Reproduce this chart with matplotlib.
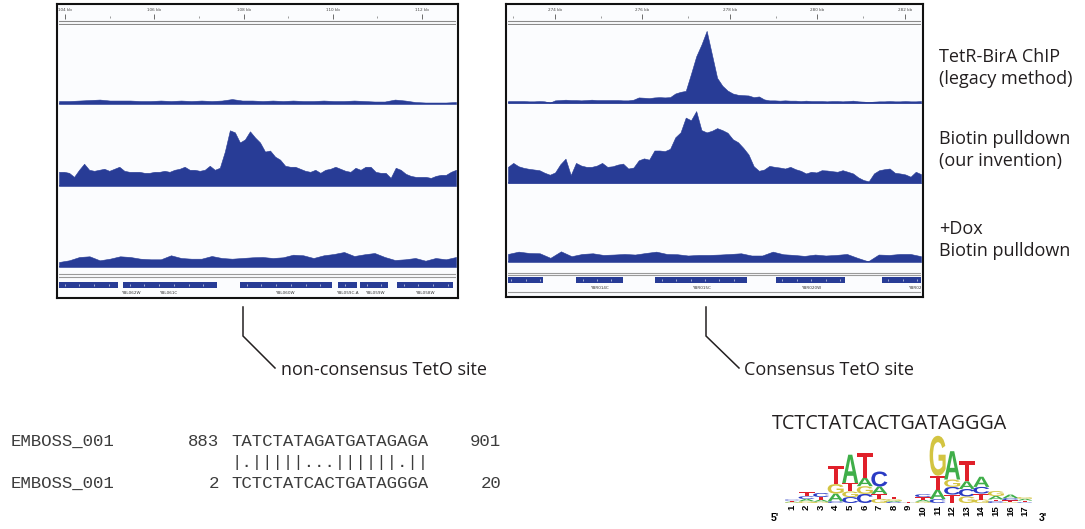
import numpy as np
import matplotlib
matplotlib.use('Agg')
import matplotlib.pyplot as plt
from matplotlib.textpath import TextPath
from matplotlib.patches import PathPatch
from matplotlib.font_manager import FontProperties
from matplotlib.transforms import Affine2D

plt.rcParams['font.family'] = ['Open Sans', 'DejaVu Sans']

# ---- genome browser data (chrII) ----
left_view_kb = (103.865, 112.762)
left_ruler_major = [104, 106, 108, 110, 112]
left_ruler_minor = [105, 107, 109, 111]

right_view_kb = (272.926, 282.366)
right_ruler_major = [274, 276, 278, 280, 282]
right_ruler_minor = [273.04, 275.05, 277.05, 279.05, 281.04]

# coverage, evenly spaced across the view
left_chip = [3, 3, 3.5, 4, 4.5, 3.5, 3.5, 3.5, 3, 3, 3.5, 3, 3.5, 3, 3.5, 3, 3.5, 5, 3.5, 3.5,
             3, 3.5, 3, 3.5, 3, 3, 3.5, 3, 3, 3.5, 3, 2.5, 2.5, 4.5, 3.5, 2, 1.5, 1.5, 1.5, 2]
left_biotin = [14, 14, 13, 9, 16, 22, 16, 15, 16, 17, 15, 17, 19, 15, 14, 14, 14, 13, 13, 14,
               14, 15, 14, 16, 17, 19, 16, 16, 15, 16, 20, 16, 18, 34, 55, 53, 43, 46, 54, 48,
               43, 34, 35, 29, 26, 20, 19, 19, 17, 15, 14, 16, 13, 16, 17, 19, 17, 15, 14, 18,
               16, 19, 19, 14, 13, 13, 8, 18, 16, 12, 10, 9, 9, 9, 8, 10, 11, 11, 14, 16]
left_dox = [5, 6.7, 10, 10.7, 6.7, 8.3, 10.7, 10, 8.3, 7.7, 7.7, 11.7, 9, 8.3, 8.3, 11, 9, 8.3, 9, 9.7,
            10, 9, 9.7, 12.3, 11.7, 9, 11.7, 13, 15, 11, 12.7, 14, 10, 7, 7.7, 9, 6.3, 9, 7.7, 10]

right_chip = [2.3, 2.3, 2.3, 2.3, 2, 2, 2.3, 2, 0.7, 3, 3.3, 3.7, 3.3, 3.3, 3, 3.3, 3.7, 3.3, 3.3, 3.3,
              3.3, 3.3, 3, 3, 3.7, 6, 5.7, 5.3, 6, 6.3, 6, 6.3, 10, 11.7, 12.7, 30, 48, 60, 74, 50,
              26, 18, 13, 10, 8.7, 8.3, 8, 6.3, 7, 4, 3, 3, 2.7, 3, 2.7, 2.7, 2.3, 2.7, 2.3, 2.3,
              2.3, 2, 2.3, 2.3, 2, 2.3, 2.7, 2, 1.7, 1.3, 1.7, 2, 2, 2.3, 2, 2, 2.3, 2, 2, 2.3]
right_biotin = [16.7, 20.7, 17.3, 15.7, 14.7, 14, 13.3, 10.7, 8.7, 11, 19.3, 25, 8.3, 20.7, 18, 16.7,
                16.7, 18, 20.7, 16.7, 17.3, 19, 20, 15, 16, 23.3, 25.3, 24, 33.3, 33.3, 32.7, 35,
                46.7, 51.7, 66.7, 64, 73.3, 54, 51.7, 53.3, 56, 54, 51.3, 44.7, 41.7, 36, 29.3,
                17.3, 12.7, 14, 17.7, 16.7, 16, 15, 16.7, 14.3, 12.7, 10, 11.7, 11, 13.3, 13,
                12.3, 11.7, 13.3, 11.7, 10, 6, 3.3, 2, 10, 13.3, 14.3, 15, 10.7, 10, 9, 6.7, 11.7, 9.3]
right_dox = [8.3, 10.7, 9.3, 9, 4.3, 11, 6, 8.3, 9, 7.3, 7.7, 8.3, 7.7, 9.3, 10.7, 8.3, 8, 6.7, 7.3, 7.3,
             7.7, 8.3, 9, 6.7, 6.7, 10.7, 8, 7.3, 6.3, 7.7, 6.7, 7.3, 8.3, 4.3, 0.7, 7.7, 7.3, 8.3, 8.3, 6]

left_genes = [(103.84, 105.19), (105.30, 107.41), (107.92, 109.99),
              (110.12, 110.55), (110.61, 111.24), (111.44, 112.70)]
left_gene_names = ['YBL062W', 'YBL061C', 'YBL060W', 'YBL059C-A', 'YBL059W', 'YBL058W']
left_gene_label_kb = [105.48, 106.31, 108.93, 110.32, 110.95, 112.07]

right_genes = [(272.85, 273.73), (274.48, 275.55), (276.29, 278.39), (279.05, 280.63), (281.47, 282.60)]
right_gene_names = ['YBR014C', 'YBR015C', 'YBR020W', 'YBR021W']
right_gene_label_kb = [275.01, 277.34, 279.85, 282.30]

track_labels = [('TetR-BirA ChIP', '(legacy method)'),
                ('Biotin pulldown', '(our invention)'),
                ('+Dox', 'Biotin pulldown')]

# ---- EMBOSS alignment ----
aln_name = 'EMBOSS_001'
aln_top_seq, aln_top_start, aln_top_end = 'TATCTATAGATGATAGAGA', 883, 901
aln_bot_seq, aln_bot_start, aln_bot_end = 'TCTCTATCACTGATAGGGA', 2, 20

# ---- motif logo (bits, stacked bottom to top) ----
motif_consensus = 'TCTCTATCACTGATAGGGA'
logo_order = ['GATC', 'GACT', 'GATC', 'CAGT', 'CGTA', 'CGAT', 'GTAC', 'CAGT', 'ACGT',
              'GATC', 'CATG', 'TCGA', 'GCAT', 'GTCA', 'CTAG', 'GTCA', 'CTAG']
logo_bits = [[0.02, 0.02, 0.03, 0.03], [0.05, 0.066, 0.077, 0.114], [0.037, 0.057, 0.077, 0.114],
             [0.05, 0.22, 0.27, 0.52], [0.17, 0.16, 0.24, 0.81], [0.26, 0.22, 0.24, 0.72],
             [0.12, 0.14, 0.21, 0.43], [0.03, 0.03, 0.05, 0.06], [0.004, 0.004, 0.004, 0.004],
             [0.04, 0.05, 0.08, 0.08], [0.11, 0.27, 0.40, 1.14], [0.24, 0.22, 0.21, 0.81],
             [0.19, 0.21, 0.22, 0.57], [0.10, 0.17, 0.19, 0.29], [0.05, 0.05, 0.10, 0.14],
             [0.02, 0.06, 0.06, 0.10], [0.02, 0.05, 0.05, 0.05]]

BLUE = '#283c96'
INK = '#231f20'
BASE_COLORS = {'A': '#3fae49', 'C': '#2a3bc4', 'G': '#d3c441', 'T': '#e0202a'}

W, H = 1085, 529
fig = plt.figure(figsize=(W / 100, H / 100), dpi=100)


def px_axes(x0, y0, x1, y1, **kw):
    ax = fig.add_axes([x0 / W, 1 - y1 / H, (x1 - x0) / W, (y1 - y0) / H], **kw)
    return ax


def frame(x0, y0, x1, y1):
    ax = px_axes(x0, y0, x1, y1, facecolor='#fbfcfe')
    ax.set_xticks([])
    ax.set_yticks([])
    for s in ax.spines.values():
        s.set_linewidth(1.5)
        s.set_color('#111111')


def ruler(x0, x1, view, major, minor):
    ax = px_axes(x0, 6, x1, 25, facecolor='none')
    ax.set_xlim(*view)
    ax.set_ylim(19, 0)
    ax.axis('off')
    ax.vlines(major, 8, 13, color='#555555', lw=0.6)
    ax.vlines(minor, 9.5, 11.5, color='#777777', lw=0.5)
    for kb in major:
        ax.text(kb, 4, f'{kb} kb', fontsize=3, ha='center', va='center', color='#444444',
                family='DejaVu Sans')
    ax.axhline(15.3, color='#8a8a8a', lw=0.8)
    ax.axhline(17.6, color='#8a8a8a', lw=0.8)


def coverage(x0, x1, top, base, view, values):
    ax = px_axes(x0, top, x1, base, facecolor='none')
    ax.set_xlim(*view)
    ax.set_ylim(0, 80)
    ax.axis('off')
    xs = np.linspace(view[0], view[1], len(values))
    ax.fill_between(xs, values, 0, color=BLUE, lw=0.4, ec=BLUE)
    ax.axhline(0, color=BLUE, lw=1.2)


def gene_track(x0, x1, top, bottom, view, genes, names, label_kb, bar_y, label_y, line_y):
    ax = px_axes(x0, top, x1, bottom, facecolor='none')
    ax.set_xlim(*view)
    ax.set_ylim(bottom - top, 0)
    ax.axis('off')
    for ly in line_y:
        ax.axhline(ly, color='#9a9a9a', lw=0.8)
    ax.broken_barh([(s, e - s) for s, e in genes], (bar_y, 6), facecolors=BLUE)
    for s, e in genes:
        marks = np.arange(s + 0.15, e - 0.05, 0.33)
        ax.plot(marks, [bar_y + 3] * len(marks), ls='none', marker='|', ms=1.6,
                mew=0.4, color='white')
    for kb, name in zip(label_kb, names):
        ax.text(kb, label_y, name, fontsize=3, ha='center', va='center', color='#333333',
                family='DejaVu Sans', clip_on=True)


# left browser panel
frame(57, 4, 458, 298)
ruler(59, 456, left_view_kb, left_ruler_major, left_ruler_minor)
coverage(59, 456, 25, 104, left_view_kb, left_chip)
coverage(59, 456, 105, 186, left_view_kb, left_biotin)
coverage(59, 456, 187, 267, left_view_kb, left_dox)
gene_track(59, 456, 270, 297, left_view_kb, left_genes, left_gene_names, left_gene_label_kb,
           12, 23, [4, 6.5])

# right browser panel
frame(506, 4, 923, 297)
ruler(508, 921, right_view_kb, right_ruler_major, right_ruler_minor)
coverage(508, 921, 25, 103.3, right_view_kb, right_chip)
coverage(508, 921, 104.5, 183.3, right_view_kb, right_biotin)
coverage(508, 921, 184.5, 262, right_view_kb, right_dox)
gene_track(508, 921, 270, 296, right_view_kb, right_genes, right_gene_names, right_gene_label_kb,
           7, 18, [3, 5, 22])

# overlay for callouts and text
ov = fig.add_axes([0, 0, 1, 1], facecolor='none')
ov.set_xlim(0, W)
ov.set_ylim(H, 0)
ov.axis('off')

ov.plot([243, 243, 275], [307, 336, 368], color=INK, lw=1.1, solid_joinstyle='miter')
ov.plot([706, 706, 739], [307, 336, 368], color=INK, lw=1.1, solid_joinstyle='miter')
ov.text(281, 370, 'non-consensus TetO site', fontsize=13, va='center', color=INK)
ov.text(744, 370, 'Consensus TetO site', fontsize=13, va='center', color=INK)

for (l1, l2), yc in zip(track_labels, [57, 139, 229]):
    ov.text(939, yc, l1, fontsize=13, va='center', color=INK)
    ov.text(939, yc + 22, l2, fontsize=13, va='center', color=INK)

# alignment block: name, start, sequence, end in fixed columns, shared baseline
match = ''.join('|' if a == b else '.' for a, b in zip(aln_top_seq, aln_bot_seq))
mono = dict(family='Liberation Mono', fontsize=12.5, va='baseline', color='#3c3c3c')
rows = [(aln_name, str(aln_top_start), aln_top_seq, str(aln_top_end), 446),
        ('', '', match, '', 467),
        (aln_name, str(aln_bot_start), aln_bot_seq, str(aln_bot_end), 488)]
for name, start, seq, end, yb in rows:
    ov.text(11, yb, name, **mono)
    ov.text(219, yb, start, ha='right', **mono)
    ov.text(231, yb, seq, **mono)
    ov.text(501, yb, end, ha='right', **mono)

# motif logo
ov.text(772, 424, motif_consensus, fontsize=14.2, va='center', color=INK)
logo = px_axes(784.7, 433, 1032.3, 503, facecolor='none')
logo.set_xlim(0.5, len(logo_order) + 0.5)
logo.set_ylim(0, 2)
logo.axis('off')
logo_font = FontProperties(family='Liberation Sans', weight='bold')


def draw_letter(ax, ch, x, y, w, h):
    tp = TextPath((0, 0), ch, size=1, prop=logo_font)
    bb = tp.get_extents()
    t = Affine2D().translate(-bb.x0, -bb.y0).scale(w / bb.width, h / bb.height).translate(x - w / 2, y)
    ax.add_patch(PathPatch(t.transform_path(tp), fc=BASE_COLORS[ch], ec='none'))


for pos, (order, bits) in enumerate(zip(logo_order, logo_bits), start=1):
    y = 0
    for ch, b in zip(order, bits):
        draw_letter(logo, ch, pos, y, 1.1, b)
        y += b
    logo.text(pos, -0.06, str(pos), rotation=90, ha='center', va='top', fontsize=6.8,
              fontweight='bold', family='Liberation Sans', clip_on=False)
logo.text(-0.2, -0.43, "5'", ha='center', va='center', fontsize=7.5, fontweight='bold',
          family='Liberation Sans', clip_on=False)
logo.text(18.2, -0.43, "3'", ha='center', va='center', fontsize=7.5, fontweight='bold',
          family='Liberation Sans', clip_on=False)

fig.savefig('out.png', dpi=100, facecolor='white')
